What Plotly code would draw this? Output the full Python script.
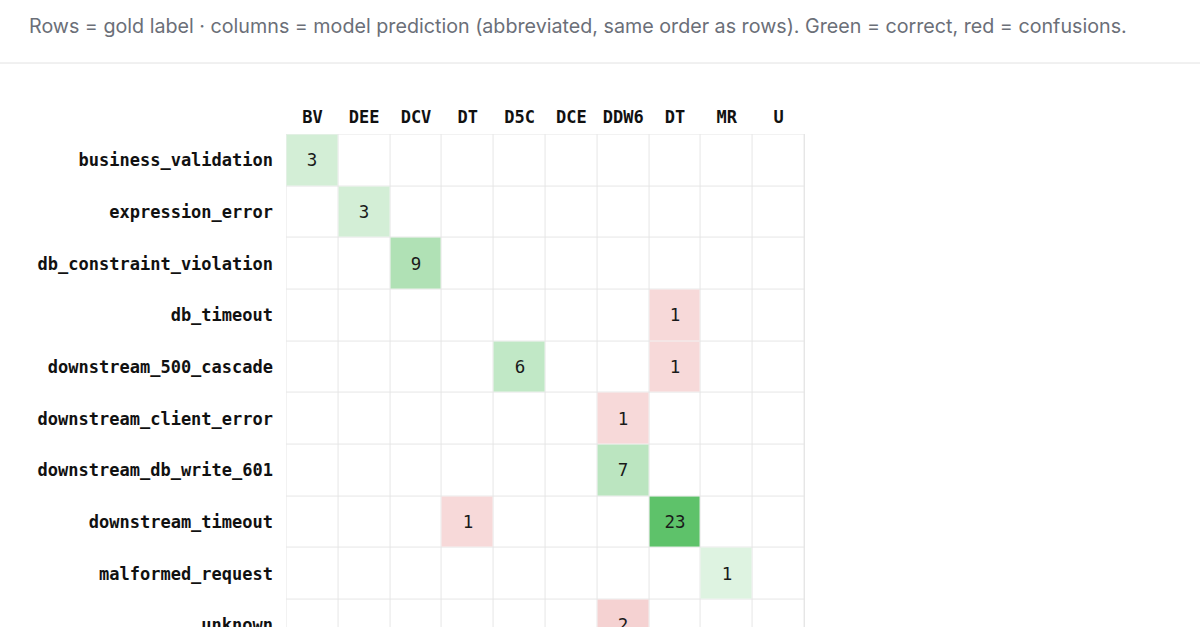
import plotly.graph_objects as go

# ---- data ----
row_labels = ["business_validation", "expression_error", "db_constraint_violation",
              "db_timeout", "downstream_500_cascade", "downstream_client_error",
              "downstream_db_write_601", "downstream_timeout", "malformed_request", "unknown"]
col_labels = ["BV", "DEE", "DCV", "DT", "D5C", "DCE", "DDW6", "DT", "MR", "U"]
counts = [
    [3, 0, 0, 0, 0, 0, 0, 0, 0, 0],
    [0, 3, 0, 0, 0, 0, 0, 0, 0, 0],
    [0, 0, 9, 0, 0, 0, 0, 0, 0, 0],
    [0, 0, 0, 0, 0, 0, 0, 1, 0, 0],
    [0, 0, 0, 0, 6, 0, 0, 1, 0, 0],
    [0, 0, 0, 0, 0, 0, 1, 0, 0, 0],
    [0, 0, 0, 0, 0, 0, 7, 0, 0, 0],
    [0, 0, 0, 1, 0, 0, 0, 23, 0, 0],
    [0, 0, 0, 0, 0, 0, 0, 0, 1, 0],
    [0, 0, 0, 0, 0, 0, 2, 0, 0, 0],
]
header = ("Rows = gold label · columns = model prediction (abbreviated, same order as rows). "
          "Green = correct, red = confusions.")

n = len(row_labels)
xs = list(range(n))
ys = list(range(n))
vmax = max(max(r) for r in counts)


def mix(base, a):
    return "rgb(%d,%d,%d)" % tuple(round(255 - a * (255 - c)) for c in base)


GREEN = (76, 187, 90)
RED = (211, 47, 47)
green_scale = [[0, mix(GREEN, 0.15)], [1, mix(GREEN, 0.90)]]
red_scale = [[0, mix(RED, 0.15)], [1, mix(RED, 0.90)]]

z_diag = [[counts[i][j] if (i == j and counts[i][j]) else None for j in xs] for i in ys]
z_off = [[counts[i][j] if (i != j and counts[i][j]) else None for j in xs] for i in ys]
t_diag = [[str(counts[i][j]) if (i == j and counts[i][j]) else "" for j in xs] for i in ys]
t_off = [[str(counts[i][j]) if (i != j and counts[i][j]) else "" for j in xs] for i in ys]
z_bg = [[0 for j in xs] for i in ys]

cell_font = dict(family="DejaVu Sans Mono", size=17.5, color="#1a1a1a")

fig = go.Figure()
fig.add_trace(go.Heatmap(x=xs, y=ys, z=z_bg, colorscale=[[0, "white"], [1, "white"]],
                         showscale=False, xgap=1, ygap=1, hoverinfo="skip"))
fig.add_trace(go.Heatmap(x=xs, y=ys, z=z_diag, text=t_diag, texttemplate="%{text}",
                         textfont=cell_font, colorscale=green_scale, zmin=0, zmax=vmax,
                         showscale=False, xgap=1, ygap=1, hoverongaps=False))
fig.add_trace(go.Heatmap(x=xs, y=ys, z=z_off, text=t_off, texttemplate="%{text}",
                         textfont=cell_font, colorscale=red_scale, zmin=0, zmax=vmax,
                         showscale=False, xgap=1, ygap=1, hoverongaps=False))

W, H = 1200, 627
L, R, T, B = 286, 1200 - 805, 134, 0
pw, ph = W - L - R, H - T - B

tick_font = dict(family="DejaVu Sans Mono", size=17, color="#111111", weight="bold")

fig.update_layout(
    width=W, height=H,
    margin=dict(l=L, r=R, t=T, b=B, pad=0, autoexpand=False),
    paper_bgcolor="white",
    plot_bgcolor="#e6e6e6",
    showlegend=False,
    xaxis=dict(side="top", range=[-0.51, n - 0.49], tickvals=xs, ticktext=col_labels,
               showgrid=False, zeroline=False, showline=False, ticks="",
               tickfont=tick_font, ticklabelstandoff=7, automargin=False,
               fixedrange=True),
    yaxis=dict(range=[9.03, -0.51], tickvals=ys, ticktext=row_labels,
               showgrid=False, zeroline=False, showline=False, ticks="",
               tickfont=tick_font, ticklabelstandoff=12, ticklabeloverflow="allow",
               automargin=False, fixedrange=True),
    annotations=[dict(text=header, xref="paper", yref="paper",
                      x=(27 - L) / pw, y=(H - 26) / ph, xanchor="left", yanchor="middle",
                      showarrow=False,
                      font=dict(family="Inter", size=19.7, color="#6b6f78"))],
    shapes=[dict(type="line", xref="paper", yref="paper",
                 x0=-L / pw, x1=(W - L) / pw, y0=(H - 63) / ph, y1=(H - 63) / ph,
                 line=dict(color="#e2e2e2", width=1))],
)

fig.write_html("out.html", config={"displayModeBar": False})
